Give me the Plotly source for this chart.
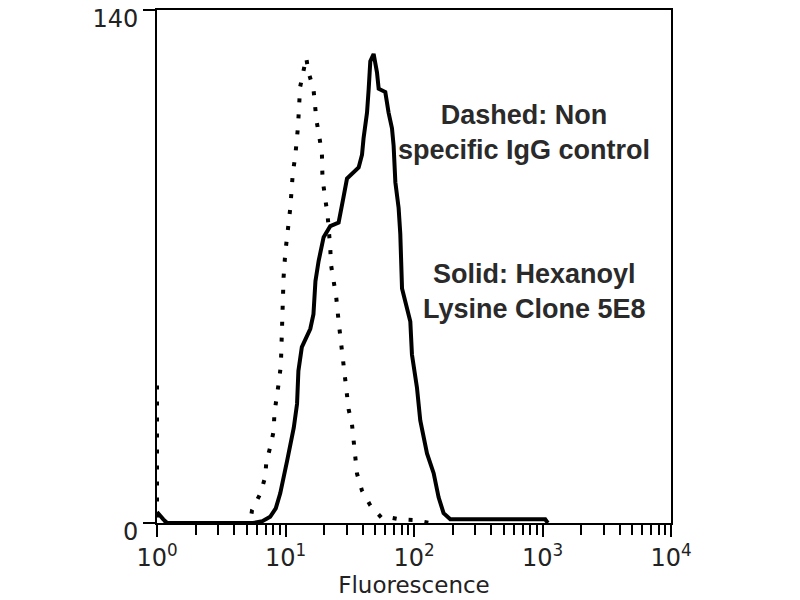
import plotly.graph_objects as go

# Solid: Hexanoyl Lysine Clone 5E8 histogram (fluorescence, count)
solid_x = [1.0, 1.05, 1.12, 1.2, 5.6, 6.6, 7.6, 8.4, 9.1, 10.3, 11.6, 12.3, 12.6, 13.4,
           15.6, 16.5, 17.1, 18.1, 19.8, 22.3, 25.9, 28.3, 30.1, 37.1, 39.4, 40.5, 43.1,
           44.4, 45.7, 48.5, 51.5, 53.1, 59.8, 63.4, 67.4, 69.4, 71.6, 75.9, 78.2, 80.7,
           88.3, 93.6, 96.4, 105.4, 111.9, 126.2, 142.2, 155.4, 169.9, 191.6, 300, 600,
           1050, 1100]
solid_y = [3, 2, 1, 0, 0, 0.5, 1.7, 4, 8.1, 17, 26, 32.5, 41.5, 48,
           53, 57, 66, 71.5, 78, 81, 82, 89, 94, 97, 100.5, 105, 112,
           118.5, 126, 128, 123, 118.5, 117.6, 112, 107.7, 103, 93, 86, 79, 64,
           59, 55, 46, 37, 28, 19, 13.6, 7, 2.7, 1, 1, 1,
           1, 0]

# Dashed: non specific IgG control histogram
ctrl_x = [1.0, 1.0, 1.04, 5.3, 5.49, 6.37, 6.96, 7.09, 7.62, 8.08, 8.2, 8.59, 8.84, 9.2,
          9.39, 9.5, 9.66, 9.96, 10.3, 10.9, 11.4, 11.9, 12.5, 13.0, 14.5, 15.1, 16.5,
          17.4, 18.4, 19.2, 19.4, 20.4, 21.3, 22.3, 22.6, 23.7, 24.8, 25.9, 27.2, 28.3,
          29.7, 31.0, 32.9, 34.3, 36.0, 39.4, 45.7, 56.4, 65, 78, 100, 134]
ctrl_y = [37.5, 0, 0, 0, 3.5, 8, 12.6, 16.7, 20.8, 25, 30, 34, 38, 43,
          56, 61, 67, 73.7, 78, 86, 95.5, 100, 108, 119, 127, 123, 118.5,
          110, 105, 101, 94, 88, 83.7, 75, 70.5, 66, 61.7, 55, 48.6, 44,
          37.5, 31, 27, 20, 13.5, 8.8, 4.8, 1.3, 1.5, 1, 0.8, 0]

x_tickvals = [1, 10, 100, 1000, 10000]
x_ticktext = ["10<sup>0</sup>", "10<sup>1</sup>", "10<sup>2</sup>", "10<sup>3</sup>", "10<sup>4</sup>"]
y_tickvals = [0, 140]
y_ticktext = ["0", "140"]

note_ctrl = "<b>Dashed: Non<br>specific IgG control</b>"
note_solid = "<b>Solid: Hexanoyl<br>Lysine Clone 5E8</b>"

fig = go.Figure()
fig.add_trace(go.Scatter(x=solid_x, y=solid_y, mode="lines",
                         line=dict(color="black", width=4), showlegend=False))
fig.add_trace(go.Scatter(x=ctrl_x, y=ctrl_y, mode="lines",
                         line=dict(color="black", width=4, dash="4px,12px"), showlegend=False))

tickfont = dict(family="DejaVu Sans", size=24, color="#222")
notefont = dict(family="Liberation Sans", size=27, color="#2a2a2a")
# page body has an 8px margin, so the figure is 8px smaller than the window
fig.update_layout(
    width=792, height=592,
    margin=dict(l=149, r=129, t=2, b=77),
    plot_bgcolor="white", paper_bgcolor="white",
    xaxis=dict(type="log", range=[0, 4], tickmode="array", tickvals=x_tickvals,
               ticktext=x_ticktext, ticks="outside", ticklen=12, tickwidth=2,
               tickcolor="black", showline=True, linecolor="black", linewidth=2,
               mirror=True, showgrid=False, zeroline=False, tickfont=tickfont,
               automargin=False,
               minor=dict(ticks="outside", ticklen=10, tickwidth=2, tickcolor="black",
                          dtick="D1", showgrid=False),
               title=dict(text="Fluorescence", font=dict(family="DejaVu Sans", size=23, color="#222"),
                          standoff=2)),
    yaxis=dict(range=[0, 140], tickmode="array", tickvals=y_tickvals, ticktext=y_ticktext,
               ticks="outside", ticklen=12, tickwidth=2, tickcolor="black",
               showline=True, linecolor="black", linewidth=2, mirror=True,
               showgrid=False, zeroline=False, tickfont=tickfont,
               automargin=False, ticklabeloverflow="allow", ticklabelshift=9),
    annotations=[
        dict(text=note_ctrl, xref="paper", yref="paper", x=0.714, y=0.761,
             xanchor="center", yanchor="middle",
             showarrow=False, align="center", font=notefont),
        dict(text=note_solid, xref="paper", yref="paper", x=0.735, y=0.452,
             xanchor="center", yanchor="middle",
             showarrow=False, align="center", font=notefont),
    ],
)
fig.write_html("out.html")
